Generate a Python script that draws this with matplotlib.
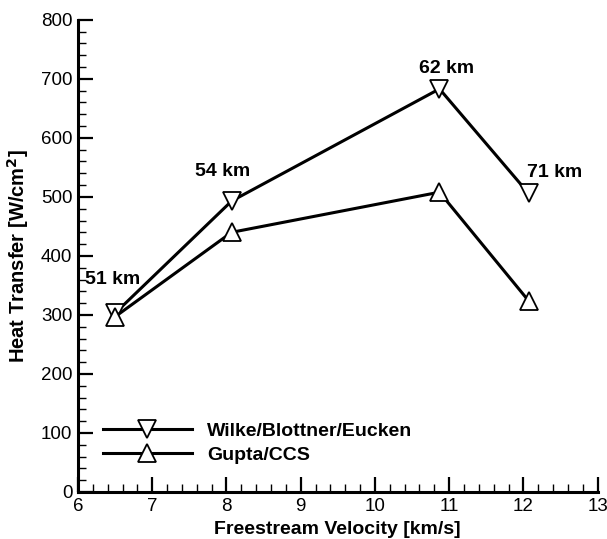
import matplotlib
matplotlib.use("Agg")
import matplotlib.pyplot as plt
from matplotlib.ticker import MultipleLocator

plt.rcParams['font.family'] = ['Liberation Sans', 'DejaVu Sans']

velocity_wbe = [6.5, 8.07, 10.87, 12.07]
heat_wbe = [303, 493, 683, 506]
velocity_gupta = [6.5, 8.07, 10.87, 12.07]
heat_gupta = [297, 440, 508, 324]
altitude_labels = ["51 km", "54 km", "62 km", "71 km"]
series_names = ["Wilke/Blottner/Eucken", "Gupta/CCS"]

fig = plt.figure(figsize=(6.07, 5.39), dpi=100)
ax = fig.add_axes([0.1285, 0.0872, 0.856, 0.876])

ax.plot(velocity_wbe, heat_wbe, color='black', lw=2.2, marker='v', ms=12.5,
        mfc='white', mec='black', mew=1.3, label=series_names[0], zorder=3)
ax.plot(velocity_gupta, heat_gupta, color='black', lw=2.2, marker='^', ms=12.5,
        mfc='white', mec='black', mew=1.3, label=series_names[1], zorder=3)

# altitude annotations above the upper curve (offsets in points)
offsets = [(-2, 24), (-6.5, 21), (5, 15), (19, 15)]
for x, y, txt, (dx, dy) in zip(velocity_wbe, heat_wbe, altitude_labels, offsets):
    ax.annotate(txt, (x, y), xytext=(dx, dy), textcoords='offset points',
                ha='center', va='center', fontsize=14, fontweight='bold')

ax.set_xlim(6, 13)
ax.set_ylim(0, 800)
ax.xaxis.set_major_locator(MultipleLocator(1))
ax.xaxis.set_minor_locator(MultipleLocator(0.2))
ax.yaxis.set_major_locator(MultipleLocator(100))
ax.yaxis.set_minor_locator(MultipleLocator(20))
ax.tick_params(which='both', direction='in', width=1.6, labelsize=13.5)
ax.tick_params(which='major', length=11, pad=4)
ax.tick_params(which='minor', length=6, width=1.0)
for side in ('top', 'right'):
    ax.spines[side].set_visible(False)
for side in ('left', 'bottom'):
    ax.spines[side].set_linewidth(2.2)

ax.set_xlabel('Freestream Velocity [km/s]', fontsize=14, fontweight='bold', labelpad=5)
ax.set_ylabel('Heat Transfer [W/cm$^\\mathbf{2}$]', fontsize=14.5, fontweight='bold', labelpad=7)

leg = ax.legend(loc='lower left', bbox_to_anchor=(0.014, 0.022), frameon=False,
                handlelength=4.6, labelspacing=0.35, handletextpad=0.75,
                prop={'weight': 'bold', 'size': 14})

fig.savefig('out.png', dpi=100)
